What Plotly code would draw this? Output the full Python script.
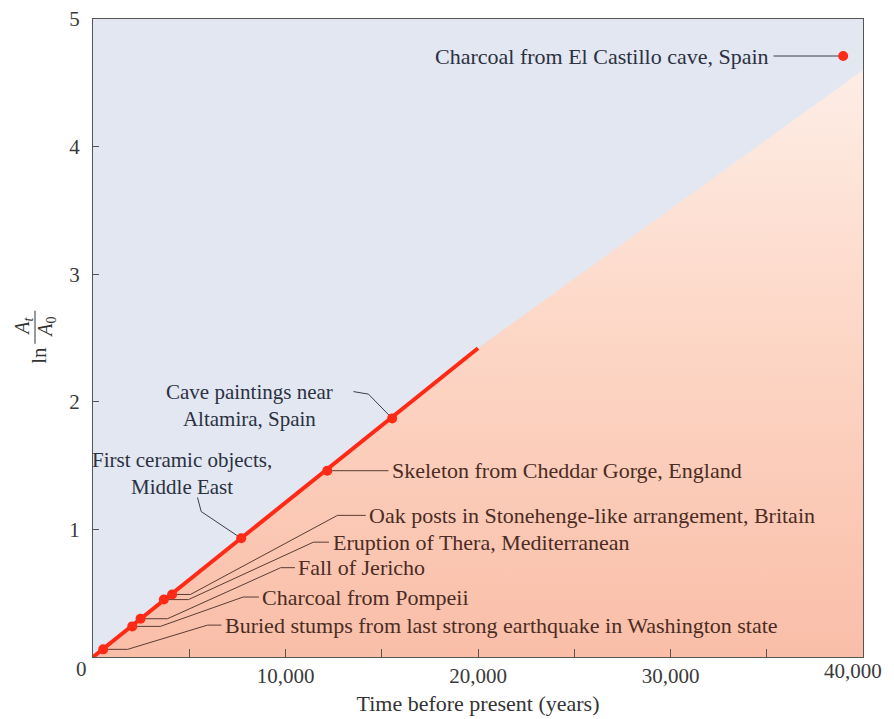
import plotly.graph_objects as go

# carbon-14 dated samples
samples = ["Buried stumps from last strong earthquake in Washington state",
           "Charcoal from Pompeii",
           "Fall of Jericho",
           "Eruption of Thera, Mediterranean",
           "Oak posts in Stonehenge-like arrangement, Britain",
           "First ceramic objects,<br>Middle East",
           "Skeleton from Cheddar Gorge, England",
           "Cave paintings near<br>Altamira, Spain",
           "Charcoal from El Castillo cave, Spain"]
years = [530, 2040, 2470, 3680, 4110, 7700, 12170, 15540, 38970]
ln_ratio = [0.06, 0.24, 0.30, 0.45, 0.49, 0.93, 1.46, 1.87, 4.71]

line_years = [0, 20000]
line_ln = [0, 2.42]

# edge of the shaded region
shade_x = [0, 20000, 40000, 40000, 0]
shade_y = [0, 2.42, 4.6, 0, 0]

x_ticks = [0, 5000, 10000, 15000, 20000, 25000, 30000, 35000, 40000]
x_ticktext = ["", "", "10,000", "", "20,000", "", "30,000", "", ""]
y_ticks = [0, 1, 2, 3, 4, 5]
y_ticktext = ["", "1", "2", "3", "4", "5"]

FONT = "Liberation Serif"
FS = 22
BROWN = "#4a2c24"
SLATE = "#2b3142"
RED = "#ff2a16"

# plot box in page pixels (the page body adds an 8px offset)
PW, PH = 770, 638.5
X0, YB = 93, 657.5

def px(xp):
    return (xp - X0) / PW

def py(yp):
    return (YB - yp) / PH

fig = go.Figure()

fig.add_trace(go.Scatter(
    x=shade_x, y=shade_y, mode="none", fill="toself",
    fillgradient=dict(type="vertical",
                      colorscale=[[0, "#f9bea8"], [0.6, "#fdd9c9"], [1, "#fdede6"]]),
    hoverinfo="skip", showlegend=False))

# leader lines for the lower group: point -> elbow -> knee -> text
lower = [
    # index, elbow x, knee x, text y, text x
    (0, 1800, 5950, 0.25, 6750),
    (1, 3500, 7800, 0.47, 8700),
    (2, 3870, 9750, 0.70, 10570),
    (3, 4960, 11450, 0.90, 12340),
    (4, 5060, 12700, 1.11, 14250),
]
for i, elbow, knee, ty, tx in lower:
    fig.add_trace(go.Scatter(
        x=[years[i], elbow, knee, tx - 80], y=[ln_ratio[i], ln_ratio[i], ty, ty],
        mode="lines", line=dict(color="#5b3c33", width=1),
        hoverinfo="skip", showlegend=False))
    fig.add_annotation(x=tx, y=ty, text=samples[i], showarrow=False,
                       xanchor="left", yanchor="middle",
                       font=dict(family=FONT, size=FS, color=BROWN))

# Cheddar Gorge
fig.add_trace(go.Scatter(x=[years[6], 15350], y=[ln_ratio[6], ln_ratio[6]], mode="lines",
                         line=dict(color="#5b3c33", width=1), hoverinfo="skip", showlegend=False))
fig.add_annotation(x=15450, y=ln_ratio[6], text=samples[6], showarrow=False,
                   xanchor="left", yanchor="middle",
                   font=dict(family=FONT, size=FS, color=BROWN))

# first ceramics
fig.add_trace(go.Scatter(x=[5430, 5620, years[5]], y=[1.25, 1.14, ln_ratio[5]], mode="lines",
                         line=dict(color="#3a3f4c", width=1), hoverinfo="skip", showlegend=False))
fig.add_annotation(x=4600, y=1.44, text=samples[5], showarrow=False,
                   xanchor="center", yanchor="middle", align="center",
                   font=dict(family=FONT, size=21, color=SLATE))

# Altamira
fig.add_trace(go.Scatter(x=[13530, 14310, years[7]], y=[2.08, 2.06, ln_ratio[7]], mode="lines",
                         line=dict(color="#3a3f4c", width=1), hoverinfo="skip", showlegend=False))
fig.add_annotation(x=8150, y=1.97, text=samples[7], showarrow=False,
                   xanchor="center", yanchor="middle", align="center",
                   font=dict(family=FONT, size=21, color=SLATE))

# El Castillo
fig.add_trace(go.Scatter(x=[35350, years[8]], y=[ln_ratio[8], ln_ratio[8]], mode="lines",
                         line=dict(color="#3a3f4c", width=1), hoverinfo="skip", showlegend=False))
fig.add_annotation(x=35200, y=ln_ratio[8], text=samples[8], showarrow=False,
                   xanchor="right", yanchor="middle",
                   font=dict(family=FONT, size=FS, color=SLATE))

fig.add_trace(go.Scatter(x=line_years, y=line_ln, mode="lines",
                         line=dict(color=RED, width=4), hoverinfo="skip", showlegend=False))
fig.add_trace(go.Scatter(x=years, y=ln_ratio, mode="markers",
                         marker=dict(color=RED, size=10), hoverinfo="skip", showlegend=False))

# shared zero label, the last x label kept inside the page, and the y-axis title as a fraction
fig.add_annotation(x=px(81), y=py(670), xref="paper", yref="paper", text="0", showarrow=False,
                   xanchor="center", yanchor="middle", font=dict(family=FONT, size=21, color="#3a3a3a"))
fig.add_annotation(x=px(884), y=py(672), xref="paper", yref="paper", text="40,000", showarrow=False,
                   xanchor="right", yanchor="middle", font=dict(family=FONT, size=21, color="#3a3a3a"))
fig.add_annotation(x=px(39), y=py(356), xref="paper", yref="paper",
                   text="ln", textangle=-90, showarrow=False, xanchor="center", yanchor="middle",
                   font=dict(family=FONT, size=21, color="#333"))
fig.add_annotation(x=px(24), y=py(327), xref="paper", yref="paper",
                   text="<i>A</i><sub><i>t</i></sub>", textangle=-90, showarrow=False,
                   xanchor="center", yanchor="middle", font=dict(family=FONT, size=20, color="#333"))
fig.add_annotation(x=px(47), y=py(328), xref="paper", yref="paper",
                   text="<i>A</i><sub>0</sub>", textangle=-90, showarrow=False,
                   xanchor="center", yanchor="middle", font=dict(family=FONT, size=20, color="#333"))
fig.add_shape(type="line", xref="paper", yref="paper",
              x0=px(35), x1=px(35), y0=py(311), y1=py(344),
              line=dict(color="#333", width=1))

fig.update_xaxes(range=[0, 40000], tickvals=x_ticks, ticktext=x_ticktext,
                 ticks="inside", ticklen=8, tickcolor="#555",
                 showline=True, linecolor="#555", linewidth=1, mirror=True,
                 showgrid=False, zeroline=False, automargin=False,
                 ticklabeloverflow="allow",
                 tickfont=dict(family=FONT, size=21, color="#3a3a3a"),
                 title=dict(text="Time before present (years)", standoff=8,
                            font=dict(family=FONT, size=FS, color="#333")))
fig.update_yaxes(range=[0, 5], tickvals=y_ticks, ticktext=y_ticktext,
                 ticks="inside", ticklen=6, tickcolor="#555",
                 showline=True, linecolor="#555", linewidth=1, mirror=True,
                 showgrid=False, zeroline=False, ticklabelstandoff=8, automargin=False,
                 ticklabeloverflow="allow",
                 tickfont=dict(family=FONT, size=21, color="#3a3a3a"))

fig.update_layout(width=886, height=711,
                  margin=dict(l=85, r=31, t=11, b=61.5),
                  paper_bgcolor="white", plot_bgcolor="#e2e7f1",
                  showlegend=False)

fig.write_html("out.html")
